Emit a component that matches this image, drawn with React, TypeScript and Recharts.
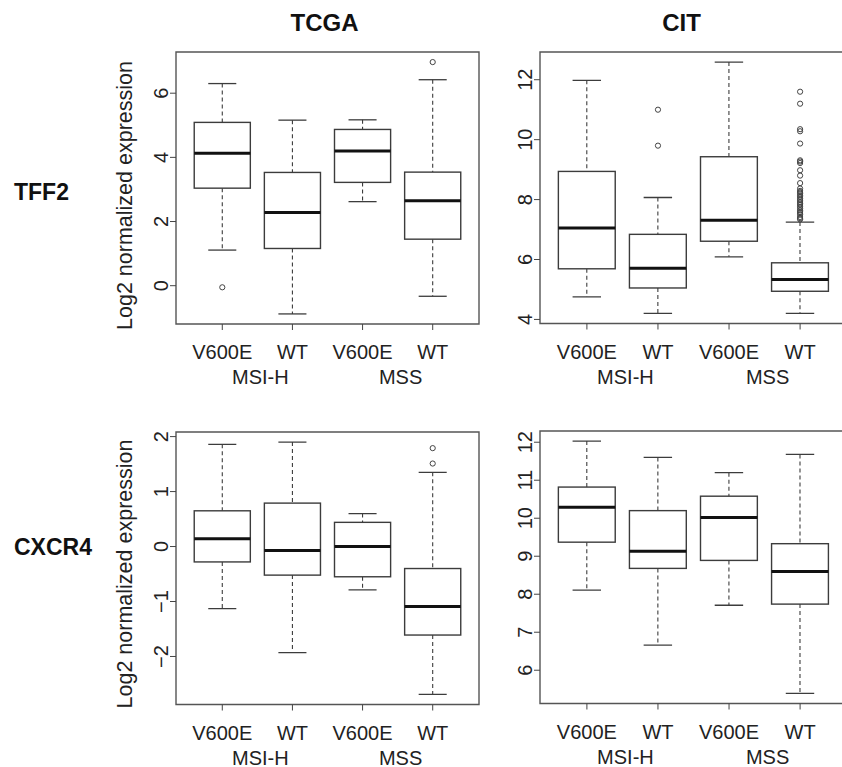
import React from "react";
import { ComposedChart, Bar, Scatter, XAxis, YAxis, ReferenceArea } from "recharts";

const FONT = "'Liberation Sans', Arial, Helvetica, sans-serif";

const groups = ["V600E", "WT", "V600E", "WT"];
const subtypes = ["MSI-H", "MSS"];
const datasets = ["TCGA", "CIT"];
const genes = ["TFF2", "CXCR4"];

// each box: [lower whisker, Q1, median, Q3, upper whisker]
const tcgaTff2 = [
  [1.11, 3.04, 4.13, 5.09, 6.3],
  [-0.88, 1.16, 2.28, 3.53, 5.16],
  [2.62, 3.22, 4.2, 4.87, 5.17],
  [-0.33, 1.45, 2.65, 3.54, 6.42],
];
const tcgaTff2Outliers = [[-0.05], [], [], [6.97]];
const tcgaTff2Ticks = [0, 2, 4, 6];

const citTff2 = [
  [4.75, 5.69, 7.05, 8.94, 11.98],
  [4.2, 5.05, 5.71, 6.84, 8.07],
  [6.09, 6.61, 7.31, 9.43, 12.59],
  [4.2, 4.94, 5.33, 5.89, 7.25],
];
const citTff2Outliers = [
  [],
  [9.8, 11.0],
  [],
  [
    7.34, 7.38, 7.42, 7.5, 7.55, 7.59, 7.64, 7.7, 7.76, 7.82, 7.87, 7.92, 7.98,
    8.03, 8.09, 8.14, 8.2, 8.25, 8.29, 8.37, 8.55, 8.8, 8.98, 9.22, 9.27, 9.31,
    9.87, 10.28, 10.35, 11.2, 11.6,
  ],
];
const citTff2Ticks = [4, 6, 8, 10, 12];

const tcgaCxcr4 = [
  [-1.13, -0.28, 0.14, 0.65, 1.86],
  [-1.93, -0.52, -0.07, 0.79, 1.9],
  [-0.79, -0.55, 0.0, 0.44, 0.6],
  [-2.69, -1.61, -1.09, -0.4, 1.35],
];
const tcgaCxcr4Outliers = [[], [], [], [1.51, 1.79]];
const tcgaCxcr4Ticks = [-2, -1, 0, 1, 2];

const citCxcr4 = [
  [8.11, 9.37, 10.29, 10.82, 12.03],
  [6.66, 8.68, 9.13, 10.2, 11.6],
  [7.71, 8.89, 10.02, 10.58, 11.2],
  [5.39, 7.74, 8.6, 9.33, 11.68],
];
const citCxcr4Outliers = [[], [], [], []];
const citCxcr4Ticks = [6, 7, 8, 9, 10, 11, 12];

const xDomain = [0.34, 4.66];
const boxTicks = [1, 2, 3, 4];
const groupTicks = [1.5, 3.5];

// R-style 4% padding around the data range
function yDomain(stats: number[][], outliers: number[][]) {
  const all = stats.flat().concat(outliers.flat());
  const lo = Math.min(...all);
  const hi = Math.max(...all);
  const pad = (hi - lo) * 0.04;
  return [lo - pad, hi + pad];
}

const fmt = (v: number) => (v < 0 ? "\u2212" + Math.abs(v) : String(v));

function BoxShape(props: any) {
  const { x, y, width, height, payload } = props;
  const [lo, q1, med, q3, hi] = payload.stats;
  const top = Math.min(y, y + height);
  const span = Math.abs(height);
  const py = (v: number) => top + ((hi - v) / (hi - lo)) * span;
  const cx = x + width / 2;
  const cap = width / 4;
  const c = "#3c3c3c";
  return (
    <g>
      <line x1={cx} x2={cx} y1={py(hi)} y2={py(q3)} stroke={c} strokeWidth={1.1} strokeDasharray="4 3" />
      <line x1={cx} x2={cx} y1={py(q1)} y2={py(lo)} stroke={c} strokeWidth={1.1} strokeDasharray="4 3" />
      <line x1={cx - cap} x2={cx + cap} y1={py(hi)} y2={py(hi)} stroke={c} strokeWidth={1.3} />
      <line x1={cx - cap} x2={cx + cap} y1={py(lo)} y2={py(lo)} stroke={c} strokeWidth={1.3} />
      <rect x={x} y={py(q3)} width={width} height={py(q1) - py(q3)} fill="#fff" stroke={c} strokeWidth={1.4} />
      <line x1={x} x2={x + width} y1={py(med)} y2={py(med)} stroke="#111" strokeWidth={3} />
    </g>
  );
}

function Dot(props: any) {
  return <circle cx={props.cx} cy={props.cy} r={2.6} fill="none" stroke="#444" strokeWidth={1} />;
}

function YTick(props: any) {
  const { x, y, payload } = props;
  return (
    <text x={x} y={y} transform={`rotate(-90 ${x} ${y})`} textAnchor="middle" fontSize={20} fill="#222" fontFamily={FONT}>
      {fmt(payload.value)}
    </text>
  );
}

function XTick(props: any) {
  const { x, y, payload } = props;
  return (
    <text x={x} y={y + 27} textAnchor="middle" fontSize={20} fill="#222" fontFamily={FONT}>
      {groups[payload.value - 1]}
    </text>
  );
}

function GroupTick(props: any) {
  const { x, y, payload } = props;
  return (
    <text x={x + 3} y={y + 20} textAnchor="middle" fontSize={20} fill="#222" fontFamily={FONT}>
      {subtypes[payload.value < 2.5 ? 0 : 1]}
    </text>
  );
}

interface PanelProps {
  stats: number[][];
  outliers: number[][];
  ticks: number[];
  left: number;
  top: number;
  plotW: number;
  plotH: number;
}

function Panel({ stats, outliers, ticks, left, top, plotW, plotH }: PanelProps) {
  const data = stats.map((s, i) => ({ pos: i + 1, range: [s[0], s[4]], stats: s }));
  const points = outliers.flatMap((vals, i) => vals.map((v) => ({ pos: i + 1, value: v })));
  const domain = yDomain(stats, outliers);
  const boxW = (0.8 * plotW) / (xDomain[1] - xDomain[0]);
  return (
    <div style={{ position: "absolute", left: left - 40, top: top - 10 }}>
      <ComposedChart
        width={plotW + 50}
        height={plotH + 80}
        data={data}
        margin={{ top: 10, right: 10, bottom: 0, left: 0 }}
      >
        <XAxis
          type="number"
          dataKey="pos"
          domain={xDomain}
          ticks={boxTicks}
          allowDataOverflow
          interval={0}
          height={40}
          axisLine={false}
          tickSize={6}
          tickLine={{ stroke: "#444" }}
          tick={<XTick />}
        />
        <XAxis
          xAxisId="grp"
          type="number"
          dataKey="pos"
          domain={xDomain}
          ticks={groupTicks}
          allowDataOverflow
          interval={0}
          height={30}
          axisLine={false}
          tickLine={false}
          tickSize={0}
          tickMargin={0}
          tick={<GroupTick />}
        />
        <YAxis
          type="number"
          domain={domain}
          ticks={ticks}
          allowDataOverflow
          interval={0}
          width={40}
          axisLine={false}
          tickSize={6}
          tickLine={{ stroke: "#444" }}
          tick={<YTick />}
        />
        <Bar dataKey="range" barSize={boxW} shape={<BoxShape />} isAnimationActive={false} />
        <Scatter data={points} dataKey="value" shape={<Dot />} isAnimationActive={false} />
        <ReferenceArea
          x1={xDomain[0]}
          x2={xDomain[1]}
          y1={domain[0]}
          y2={domain[1]}
          fill="none"
          fillOpacity={0}
          stroke="#555"
          strokeWidth={1.4}
          ifOverflow="visible"
        />
      </ComposedChart>
    </div>
  );
}

export default function App() {
  return (
    <div
      style={{
        position: "absolute",
        left: 0,
        top: 0,
        width: 842,
        height: 767,
        background: "#fff",
        overflow: "hidden",
        fontFamily: FONT,
      }}
    >
      <svg width={842} height={767} style={{ position: "absolute", left: 0, top: 0 }}>
        <text x={324.5} y={31} textAnchor="middle" fontSize={24} fontWeight="bold" fill="#111" fontFamily={FONT}>
          {datasets[0]}
        </text>
        <text x={681.5} y={31} textAnchor="middle" fontSize={24} fontWeight="bold" fill="#111" fontFamily={FONT}>
          {datasets[1]}
        </text>
        <text x={14} y={200} fontSize={23} fontWeight="bold" fill="#111" fontFamily={FONT}>
          {genes[0]}
        </text>
        <text x={14} y={555} fontSize={23} fontWeight="bold" fill="#111" fontFamily={FONT}>
          {genes[1]}
        </text>
        <text x={132} y={195.5} transform="rotate(-90 132 195.5)" textAnchor="middle" fontSize={21.5} fill="#222" fontFamily={FONT}>
          Log2 normalized expression
        </text>
        <text x={132} y={574} transform="rotate(-90 132 574)" textAnchor="middle" fontSize={21.5} fill="#222" fontFamily={FONT}>
          Log2 normalized expression
        </text>
      </svg>
      <Panel stats={tcgaTff2} outliers={tcgaTff2Outliers} ticks={tcgaTff2Ticks} left={175.5} top={52} plotW={303} plotH={272} />
      <Panel stats={citTff2} outliers={citTff2Outliers} ticks={citTff2Ticks} left={539.5} top={52} plotW={307} plotH={271.5} />
      <Panel stats={tcgaCxcr4} outliers={tcgaCxcr4Outliers} ticks={tcgaCxcr4Ticks} left={175.5} top={431.5} plotW={303} plotH={272.5} />
      <Panel stats={citCxcr4} outliers={citCxcr4Outliers} ticks={citCxcr4Ticks} left={539.5} top={431} plotW={307} plotH={272.5} />
    </div>
  );
}
